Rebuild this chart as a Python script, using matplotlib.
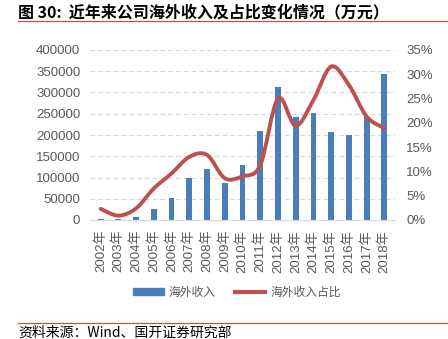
import numpy as np
import matplotlib.pyplot as plt
from matplotlib.path import Path
from matplotlib.patches import PathPatch
from matplotlib.lines import Line2D
from matplotlib.patches import Rectangle

plt.rcParams['font.family'] = ['Liberation Sans', 'Noto Sans CJK SC']

years = [f"{y}年" for y in range(2002, 2019)]
revenue = [3000, 1500, 7800, 26000, 51000, 98000, 120000, 87000, 130000,
           210000, 314000, 242000, 251000, 208000, 201000, 243000, 343000]
share = [2.3, 0.9, 2.4, 6.5, 9.6, 13.0, 13.4, 8.6, 9.0,
         11.3, 25.0, 19.4, 24.7, 31.6, 27.8, 21.3, 18.9]

bar_color = "#4a7ebb"
line_color = "#c0504d"
text_gray = "#595959"
cjk = ['Noto Sans CJK SC', 'DejaVu Sans']

fig = plt.figure(figsize=(4.48, 3.39), dpi=100)
ax = fig.add_axes([90 / 448, 1 - 220 / 339, 305 / 448, 170 / 339])
ax2 = ax.twinx()

x = np.arange(len(years))
ax.bar(x, revenue, width=0.33, color=bar_color, zorder=2)
ax.set_ylim(0, 400000)
ax.set_yticks(range(0, 400001, 50000))
ax.set_xlim(-0.6, len(years) - 0.4)
ax.set_xticks(x)
ax.set_xticklabels(years, rotation=90, fontsize=9.5, color=text_gray)
ax.yaxis.grid(True, color="#d9d9d9", linestyle=(0, (4, 3)), linewidth=0.8)
ax.set_axisbelow(True)

# smoothed line (Excel-style) via cubic bezier path through data points
pts = np.column_stack([x, share])
verts = [tuple(pts[0])]
codes = [Path.MOVETO]
for i in range(len(pts) - 1):
    p0 = pts[i - 1] if i > 0 else pts[i]
    p1, p2 = pts[i], pts[i + 1]
    p3 = pts[i + 2] if i + 2 < len(pts) else pts[i + 1]
    c1 = p1 + (p2 - p0) / 6
    c2 = p2 - (p3 - p1) / 6
    verts += [tuple(c1), tuple(c2), tuple(p2)]
    codes += [Path.CURVE4] * 3
ax2.add_patch(PathPatch(Path(verts, codes), facecolor="none",
                        edgecolor=line_color, linewidth=2.8,
                        capstyle="round", zorder=3))
ax2.set_ylim(0, 35)
ax2.set_yticks(range(0, 36, 5))
ax2.set_yticklabels([f"{v}%" for v in range(0, 36, 5)])

for a in (ax, ax2):
    for s in a.spines.values():
        s.set_visible(False)
    a.tick_params(length=0, labelsize=9.5, colors=text_gray)
ax.tick_params(axis="y", pad=7)
ax2.tick_params(axis="y", pad=8)
ax.tick_params(axis="x", labelsize=9.5, pad=7)
ax.spines["bottom"].set_visible(True)
ax.spines["bottom"].set_color("#d9d9d9")

handles = [Rectangle((0, 0), 1, 1, color=bar_color),
           Line2D([], [], color=line_color, linewidth=3)]
leg = fig.legend(handles, ["海外收入", "海外收入占比"], loc="center",
                 bbox_to_anchor=(237 / 448, 1 - 292 / 339), ncol=2,
                 frameon=False, prop={"family": cjk, "size": 8.5},
                 handlelength=2.6, handleheight=0.5, columnspacing=1.6,
                 handletextpad=0.4)
for t in leg.get_texts():
    t.set_color(text_gray)

fig.text(18 / 448, 1 - 12 / 339, "图 30:  近年来公司海外收入及占比变化情况（万元）",
         fontsize=11.5, fontweight="bold", va="center", ha="left", family=cjk)
fig.add_artist(Line2D([18 / 448, 1], [1 - 21 / 339] * 2, color="#c0504d",
                      linewidth=0.9))
fig.add_artist(Line2D([18 / 448, 1], [1 - 323 / 339] * 2, color="#c0504d",
                      linewidth=0.9))
fig.text(18 / 448, 1 - 333 / 339, "资料来源：Wind、国开证券研究部",
         fontsize=10, va="center", ha="left", family=cjk)

fig.savefig("out.png", dpi=100)
